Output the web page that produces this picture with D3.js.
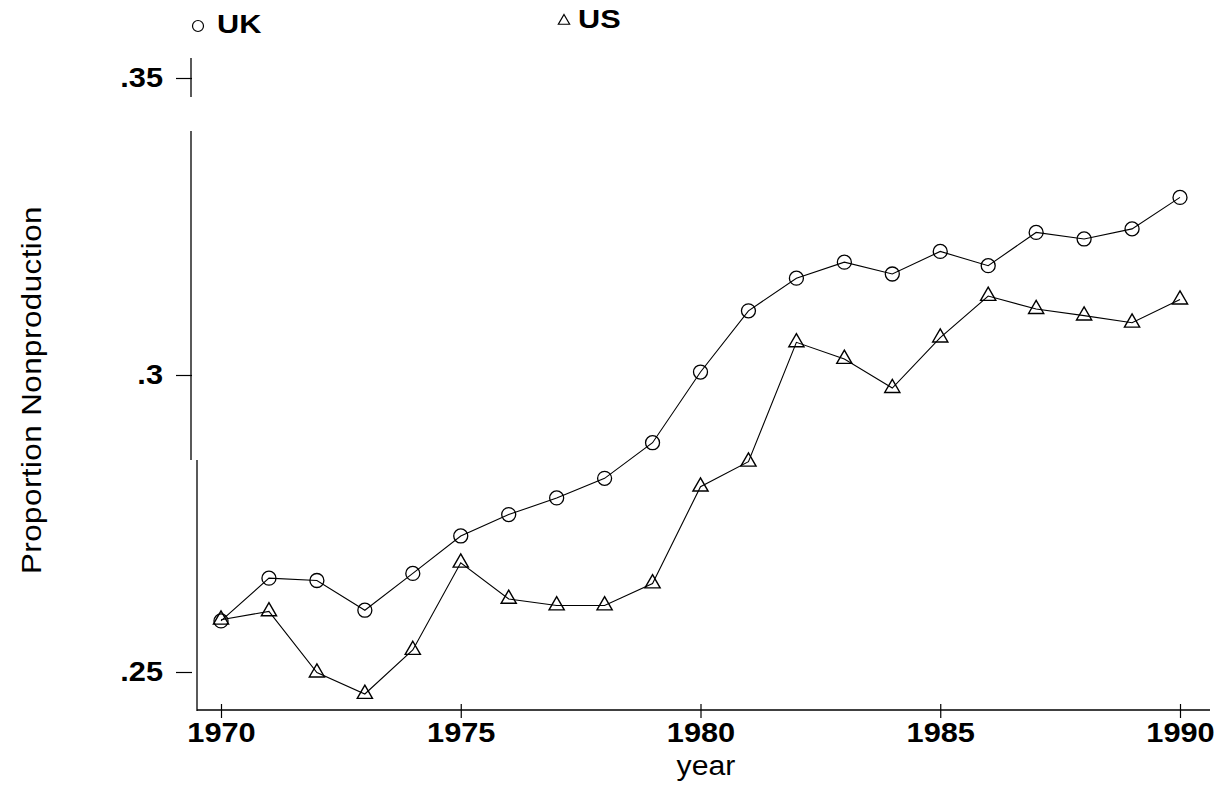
<!DOCTYPE html>
<html>
<head>
<meta charset="utf-8">
<script src="https://cdn.jsdelivr.net/npm/d3@7"></script>
<style>
  html, body { margin: 0; padding: 0; background: #fff; }
  svg { display: block; }
  text { font-family: "Liberation Sans", Arial, sans-serif; fill: #000; }
</style>
</head>
<body>
<svg id="chart" width="1219" height="787"></svg>
<script>
const years = [1970,1971,1972,1973,1974,1975,1976,1977,1978,1979,1980,1981,1982,1983,1984,1985,1986,1987,1988,1989,1990];
const ukValues = [0.2586,0.2658,0.2654,0.2604,0.2666,0.2729,0.2765,0.2793,0.2826,0.2886,0.3005,0.3108,0.3163,0.3190,0.3170,0.3208,0.3184,0.3240,0.3229,0.3246,0.3299];
const usValues = [0.2588,0.2602,0.2499,0.2463,0.2537,0.2684,0.2623,0.2612,0.2612,0.2649,0.2812,0.2854,0.3055,0.3027,0.2978,0.3063,0.3133,0.3111,0.3100,0.3088,0.3127];
const yTicks = [0.25, 0.3, 0.35];
const yTickLabels = [".25", ".3", ".35"];
const xTicks = [1970, 1975, 1980, 1985, 1990];
const seriesNames = ["UK", "US"];

const svg = d3.select("#chart");
const x = d3.scaleLinear().domain([1970, 1990]).range([221, 1180]);
const y = d3.scaleLinear().domain([0.25, 0.35]).range([672, 78]);
const SX = 1.14; // horizontal stretch of the scanned lettering

// Y axis line (scanned look: broken segments)
const axisG = svg.append("g").attr("stroke", "#000").attr("stroke-width", 1.3);
axisG.append("line").attr("x1", 191).attr("x2", 191).attr("y1", 58).attr("y2", 97);
axisG.append("line").attr("x1", 191).attr("x2", 191).attr("y1", 131).attr("y2", 460);
axisG.append("line").attr("x1", 197).attr("x2", 197).attr("y1", 460).attr("y2", 711);

// Y ticks
const yAxis = d3.axisLeft(y).tickValues(yTicks)
  .tickFormat((d, i) => yTickLabels[i]).tickSize(16).tickPadding(13);
const yg = svg.append("g").attr("transform", "translate(192,0)").call(yAxis);
yg.select(".domain").remove();
yg.selectAll(".tick line").attr("stroke", "#000").attr("stroke-width", 1.2);
yg.selectAll(".tick text").attr("font-size", 27).attr("font-weight", "bold")
  .attr("x", -29 / SX).attr("transform", `scale(${SX},1)`)
  .attr("font-family", "Liberation Sans, Arial, sans-serif");

// X axis
const xAxis = d3.axisBottom(x).tickValues(xTicks).tickFormat(d3.format("d"))
  .tickSize(8).tickPadding(5);
const xg = svg.append("g").attr("transform", "translate(0,710)").call(xAxis);
xg.select(".domain").remove();
xg.append("line").attr("x1", 197).attr("x2", 1210).attr("y1", 0).attr("y2", 0)
  .attr("stroke", "#000").attr("stroke-width", 1.6);
xg.selectAll(".tick line").attr("stroke", "#000").attr("stroke-width", 1.2).attr("y1", -6);
xg.selectAll(".tick text").attr("font-size", 27).attr("font-weight", "bold")
  .attr("transform", `scale(${SX},1)`)
  .attr("font-family", "Liberation Sans, Arial, sans-serif");

// Axis titles
svg.append("text").attr("transform", `translate(706,775) scale(1.12,1)`)
  .attr("text-anchor", "middle").attr("font-size", 27).attr("fill", "#222").text("year");
svg.append("text").attr("transform", "translate(41,390) rotate(-90) scale(1.12,1)")
  .attr("text-anchor", "middle").attr("font-size", 28).attr("letter-spacing", 0.4)
  .attr("fill", "#111").text("Proportion Nonproduction");

// Lines
const line = d3.line().x((d, i) => x(years[i])).y(d => y(d));
svg.append("path").datum(ukValues).attr("d", line)
  .attr("fill", "none").attr("stroke", "#000").attr("stroke-width", 1.1);
svg.append("path").datum(usValues).attr("d", line)
  .attr("fill", "none").attr("stroke", "#000").attr("stroke-width", 1.1);

// Markers
svg.append("g").selectAll("circle").data(ukValues).join("circle")
  .attr("cx", (d, i) => x(years[i])).attr("cy", d => y(d)).attr("r", 7)
  .attr("fill", "none").attr("stroke", "#000").attr("stroke-width", 1.3);
const tri = d3.symbol().type(d3.symbolTriangle).size(100);
svg.append("g").selectAll("path").data(usValues).join("path")
  .attr("transform", (d, i) => `translate(${x(years[i])},${y(d)})`)
  .attr("d", tri).attr("fill", "none").attr("stroke", "#000").attr("stroke-width", 1.4);

// Legend
svg.append("circle").attr("cx", 198).attr("cy", 26).attr("r", 5.5)
  .attr("fill", "none").attr("stroke", "#000").attr("stroke-width", 1.2);
svg.append("text").attr("transform", "translate(217,33) scale(1.18,1)").attr("font-size", 26)
  .attr("font-weight", "bold").text(seriesNames[0]);
svg.append("path").attr("transform", "translate(564,21)")
  .attr("d", d3.symbol().type(d3.symbolTriangle).size(55)())
  .attr("fill", "none").attr("stroke", "#000").attr("stroke-width", 1.2);
svg.append("text").attr("transform", "translate(578,28) scale(1.18,1)").attr("font-size", 26)
  .attr("font-weight", "bold").text(seriesNames[1]);
</script>
</body>
</html>
